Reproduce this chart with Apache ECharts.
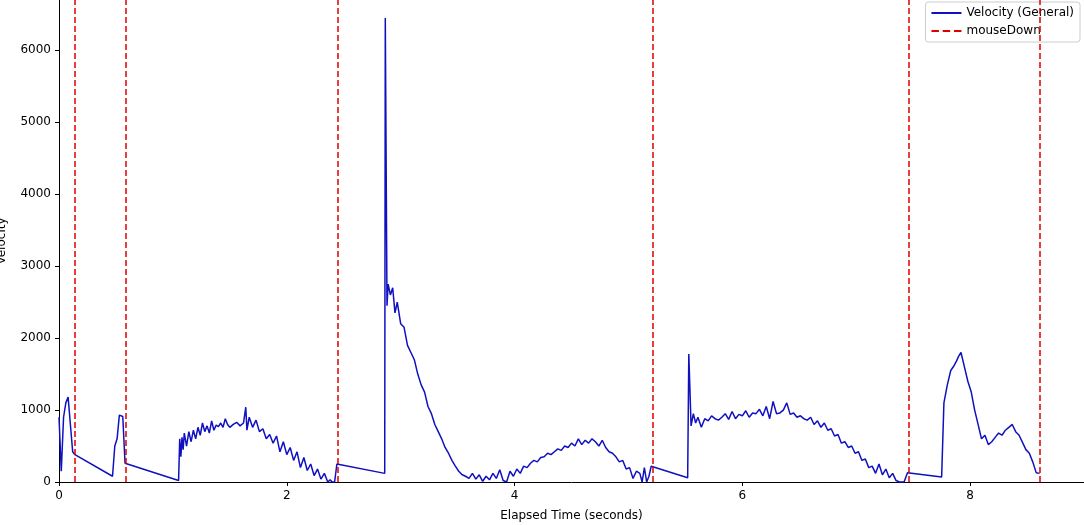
<!DOCTYPE html>
<html><head><meta charset="utf-8">
<script src="https://cdn.jsdelivr.net/npm/echarts@6/dist/echarts.min.js"></script>
<style>html,body{margin:0;padding:0;background:#fff}#c{width:1084px;height:525px}</style>
</head><body><div id="c"></div>
<script>
// segment 1: 0 - 2.44
const timeA = [0,0.02,0.04,0.06,0.08,0.1,0.12,0.14,0.47,0.49,0.51,0.53,0.56,0.58,0.59,1.05,1.06,1.07,1.08,1.09,1.1,1.12,1.14,1.16,1.18,1.2,1.22,1.24,1.26,1.28,1.3,1.32,1.34,1.36,1.38,1.4,1.42,1.44,1.46,1.48,1.5,1.53,1.56,1.59,1.62,1.64,1.65,1.67,1.7,1.73,1.76,1.79,1.82,1.85,1.88,1.91,1.94,1.97,2.0,2.03,2.06,2.09,2.12,2.15,2.18,2.21,2.24,2.27,2.3,2.33,2.36,2.38,2.4,2.42,2.44];
const veloA = [900,150,900,1100,1180,800,420,380,80,500,600,930,910,260,250,20,600,350,620,450,680,500,700,560,720,600,760,650,820,700,780,680,850,720,790,770,820,760,880,800,760,800,830,780,820,1040,720,900,760,860,700,740,600,660,540,640,420,560,380,480,300,420,200,340,160,250,90,180,40,120,0,30,0,0,250];
// segment 2: 2.86 - 5.2
const timeB = [2.86,2.865,2.88,2.89,2.91,2.93,2.95,2.97,3.0,3.03,3.06,3.09,3.12,3.15,3.18,3.21,3.24,3.27,3.3,3.33,3.36,3.39,3.42,3.45,3.48,3.51,3.54,3.57,3.6,3.63,3.66,3.69,3.72,3.75,3.78,3.81,3.84,3.87,3.9,3.93,3.96,3.99,4.02,4.05,4.08,4.11,4.14,4.17,4.2,4.23,4.26,4.29,4.32,4.35,4.38,4.41,4.44,4.47,4.5,4.53,4.56,4.59,4.62,4.65,4.68,4.71,4.74,4.77,4.8,4.83,4.86,4.89,4.92,4.95,4.98,5.01,5.04,5.07,5.1,5.12,5.14,5.16,5.18,5.2];
const veloB = [120,6450,2450,2750,2600,2700,2350,2500,2200,2150,1900,1800,1700,1500,1350,1250,1050,950,800,700,600,480,400,300,220,150,100,80,50,120,40,100,10,80,30,120,50,170,20,0,150,80,180,120,220,200,260,300,280,340,350,400,380,420,460,440,500,480,540,500,600,520,580,540,600,560,500,580,480,420,400,350,280,300,180,200,50,150,120,0,200,0,80,220];
// segment 3: 5.52 - 7.45
const timeC = [5.52,5.53,5.55,5.57,5.59,5.61,5.64,5.67,5.7,5.73,5.76,5.79,5.82,5.85,5.88,5.91,5.94,5.97,6.0,6.03,6.06,6.09,6.12,6.15,6.18,6.21,6.24,6.27,6.3,6.33,6.36,6.39,6.42,6.45,6.48,6.51,6.54,6.57,6.6,6.63,6.66,6.69,6.72,6.75,6.78,6.81,6.84,6.87,6.9,6.93,6.96,6.99,7.02,7.05,7.08,7.11,7.14,7.17,7.2,7.23,7.26,7.29,7.32,7.35,7.38,7.4,7.42,7.45];
const veloC = [60,1780,780,950,820,900,760,880,850,920,880,860,900,950,870,980,880,940,920,990,900,960,950,1010,920,1050,880,1120,950,960,1000,1100,940,960,900,920,880,860,900,800,850,760,820,720,740,640,660,540,560,480,500,400,420,300,320,200,220,120,250,100,180,60,120,20,0,0,0,130];
// segment 4: 7.75 - 8.61
const timeD = [7.75,7.77,7.8,7.83,7.86,7.88,7.9,7.92,7.95,7.98,8.01,8.04,8.07,8.1,8.13,8.16,8.19,8.22,8.25,8.28,8.31,8.34,8.37,8.4,8.43,8.46,8.49,8.52,8.55,8.58,8.61];
const veloD = [70,1100,1350,1550,1620,1680,1750,1800,1600,1400,1250,1000,800,600,650,520,560,620,680,650,720,760,800,700,650,550,450,400,280,130,120];
const mouseDownTimes = [0.14,0.59,2.45,5.21,7.46,8.61];
const xTicks = [0,2,4,6,8];

const timeValues = timeA.concat(timeB, timeC, timeD);
const velocityValues = veloA.concat(veloB, veloC, veloD);
const lineData = timeValues.map((t,i)=>[t, velocityValues[i]]);

const chart = echarts.init(document.getElementById('c'));
chart.setOption({
  animation:false,
  textStyle:{fontFamily:'DejaVu Sans'},
  grid:{left:59,right:0,top:0,bottom:43,containLabel:false,outerBoundsMode:'none'},
  legend:{right:4,top:2,orient:'vertical',itemWidth:30,itemHeight:2,backgroundColor:'#fff',borderColor:'#ccc',borderWidth:1,borderRadius:3,padding:[5,6],itemGap:6,textStyle:{fontSize:12,color:'#000'},
    data:[{name:'Velocity (General)',icon:'rect'},{name:'mouseDown',icon:'path://M0,0H4V1H0ZM6,0H10V1H6ZM12,0H16V1H12Z'}]},
  xAxis:{type:'value',min:0,max:9,interval:2,name:'Elapsed Time (seconds)',nameLocation:'middle',nameGap:28,nameTextStyle:{fontSize:12,color:'#000'},
    axisLine:{lineStyle:{color:'#000'}},axisTick:{length:4,lineStyle:{color:'#000'}},splitLine:{show:false},
    axisLabel:{color:'#000',fontSize:12,showMaxLabel:false,formatter:v=>xTicks.includes(v)?String(v):''}},
  yAxis:{type:'value',min:0,max:6700,interval:1000,name:'Velocity',nameLocation:'middle',nameGap:51,nameTextStyle:{fontSize:12,color:'#000'},
    axisLine:{show:true,lineStyle:{color:'#000'}},axisTick:{show:true,length:4,lineStyle:{color:'#000'}},splitLine:{show:false},
    axisLabel:{color:'#000',fontSize:12,showMaxLabel:false,formatter:v=>String(v)}},
  series:[
    {name:'Velocity (General)',type:'line',data:lineData,showSymbol:false,lineStyle:{color:'#1010c0',width:1.5},itemStyle:{color:'#1010c0'},z:3},
    {name:'mouseDown',type:'line',data:[],itemStyle:{color:'#e00000'},lineStyle:{color:'#e00000',type:'dashed'},
      markLine:{symbol:'none',silent:true,label:{show:false},lineStyle:{color:'#e00000',type:[6,3],width:1.5},
        data:mouseDownTimes.map(t=>({xAxis:t}))}}
  ]
});
</script></body></html>
